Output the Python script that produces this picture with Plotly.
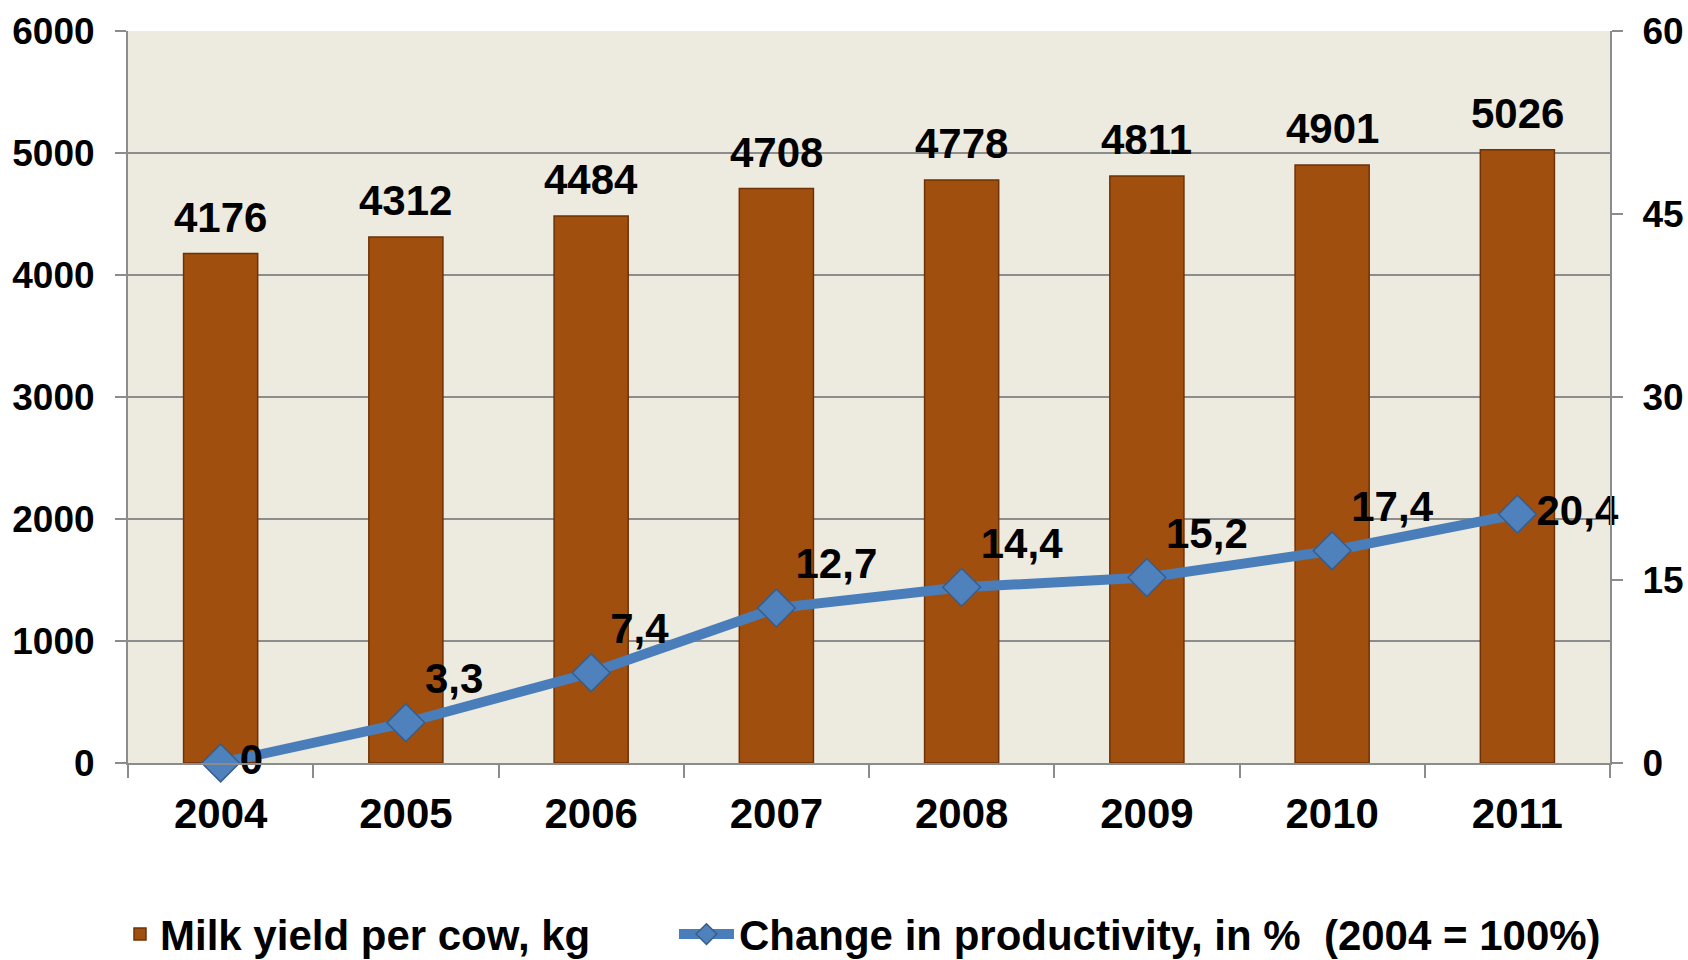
import plotly.graph_objects as go

# ---- data ----
years = ["2004", "2005", "2006", "2007", "2008", "2009", "2010", "2011"]
milk_yield = [4176, 4312, 4484, 4708, 4778, 4811, 4901, 5026]
change_pct = [0, 3.3, 7.4, 12.7, 14.4, 15.2, 17.4, 20.4]
left_ticks = [0, 1000, 2000, 3000, 4000, 5000, 6000]
right_ticks = [0, 15, 30, 45, 60]
bar_name = "Milk yield per cow, kg"
line_name = "Change in productivity, in %\u00a0 (2004 = 100%)"

bar_labels = [str(v) for v in milk_yield]
line_labels = [f"{v:g}".replace(".", ",") for v in change_pct]
line_pos = ["middle right"] + ["top right"] * (len(change_pct) - 2) + ["middle right"]

FONT = "Liberation Sans, Arial, sans-serif"
GRID = "#8C8C8C"

fig = go.Figure()
fig.add_trace(go.Bar(
    x=years, y=milk_yield, name=bar_name, legend="legend",
    marker=dict(color="#A14F0E", line=dict(color="#6E3206", width=1.5)),
))
fig.add_trace(go.Scatter(
    x=years, y=change_pct, name=line_name, yaxis="y2", legend="legend2",
    mode="lines+markers+text",
    line=dict(color="#4A7EBB", width=10),
    marker=dict(symbol="diamond", size=29, color="#4F81BD",
                line=dict(color="#385D8A", width=1.5)),
    text=line_labels, textposition=line_pos,
    textfont=dict(size=42, color="black", family=FONT, weight="bold"),
    cliponaxis=False,
))

# value labels above bars (x given as category index on the category axis)
for i, (val, lab) in enumerate(zip(milk_yield, bar_labels)):
    fig.add_annotation(x=i, y=val, xref="x", yref="y", text=lab, showarrow=False,
                       yanchor="bottom", yshift=11,
                       font=dict(size=42, color="black", family=FONT, weight="bold"))

legend_font = dict(size=42, family=FONT, color="black", weight="bold")
fig.update_layout(
    width=1688, height=960,
    margin=dict(l=128, r=78, t=31, b=197, autoexpand=False),
    plot_bgcolor="#EDEAE0", paper_bgcolor="white",
    bargap=0.6,
    font=dict(family=FONT, color="black", weight="bold"),
    showlegend=True,
    legend=dict(orientation="h", x=-0.0054, xanchor="left", y=-0.234, yanchor="middle",
                font=legend_font, bgcolor="rgba(0,0,0,0)"),
    legend2=dict(orientation="h", x=0.3684, xanchor="left", y=-0.234, yanchor="middle",
                 font=legend_font, bgcolor="rgba(0,0,0,0)", itemwidth=55),
    xaxis=dict(
        type="category", categoryorder="array", categoryarray=years,
        tickson="boundaries", ticks="outside", ticklen=13,
        tickwidth=2, tickcolor=GRID, showline=True, linecolor=GRID, linewidth=2,
        showgrid=False, ticklabelstandoff=13, tickangle=0,
        tickfont=dict(size=42, family=FONT, color="black", weight="bold"),
    ),
    yaxis=dict(
        range=[0, 6000], tickvals=left_ticks, ticks="outside", ticklen=11,
        tickwidth=2, tickcolor=GRID, showgrid=True, gridcolor=GRID, gridwidth=2,
        showline=True, linecolor=GRID, linewidth=2, zeroline=False,
        ticklabelstandoff=13,
        tickfont=dict(size=37, family=FONT, color="black", weight="bold"),
    ),
    yaxis2=dict(
        range=[0, 60], tickvals=right_ticks, overlaying="y", side="right",
        ticks="outside", ticklen=11, tickwidth=2, tickcolor=GRID,
        showgrid=False, showline=True, linecolor=GRID, linewidth=2, zeroline=False,
        ticklabelstandoff=12,
        tickfont=dict(size=37, family=FONT, color="black", weight="bold"),
    ),
)

fig.write_html("out.html", config={"displayModeBar": False},
               post_script="document.body.style.margin='0';")
